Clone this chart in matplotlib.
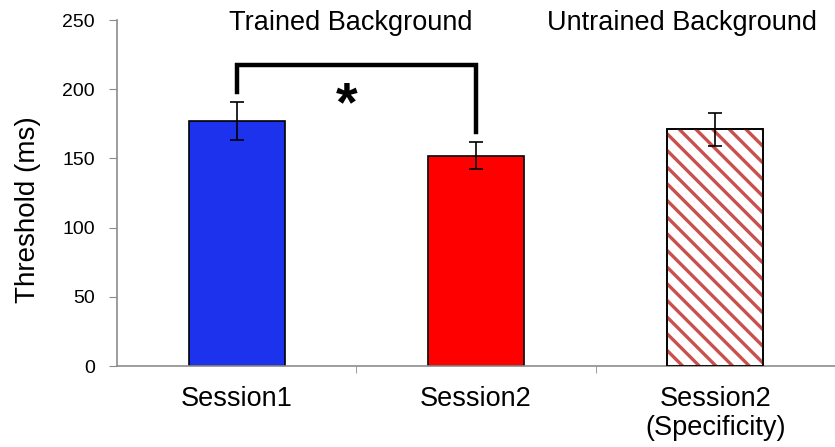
import matplotlib.pyplot as plt

plt.rcParams['font.family'] = ['Liberation Sans', 'DejaVu Sans']
plt.rcParams['hatch.linewidth'] = 2.4

sessions = ['Session1', 'Session2', 'Session2\n(Specificity)']
threshold = [177, 152, 171]
sem = [14, 10, 12]
colors = ['#1c32ec', '#ff0000', 'white']
hatch_color = '#c9504c'
groups = ['Trained Background', 'Untrained Background']

fig = plt.figure(figsize=(8.35, 4.47), dpi=100)
ax = fig.add_axes([0.1401, 0.1812, 0.8599, 0.774])

x = range(len(sessions))
ax.bar(x, threshold, width=0.4, color=colors, edgecolor='black', linewidth=1.2, zorder=2)

# diagonal stripes on the specificity bar, drawn over the white fill
ax.bar(2, threshold[2], width=0.4, color='none', edgecolor=hatch_color,
       hatch='\\\\', linewidth=0, zorder=3)
ax.bar(2, threshold[2], width=0.4, color='none', edgecolor='black', linewidth=1.2, zorder=4)

ax.errorbar(x, threshold, yerr=sem, fmt='none', ecolor='black', elinewidth=1.2,
            capsize=5, capthick=1.2, zorder=5)

ax.set_xlim(-0.5, 2.5)
ax.set_ylim(0, 250)
ax.set_yticks([0, 50, 100, 150, 200, 250])
ax.set_xticks(list(x))
ax.set_xticklabels(sessions, fontsize=19.5, linespacing=1.15)
ax.set_xticks([0.5, 1.5], minor=True)
ax.tick_params(axis='x', which='major', length=0, pad=14.5)
ax.tick_params(axis='x', which='minor', length=5, color='#8c8c8c')
ax.tick_params(axis='y', length=6, color='#8c8c8c', labelsize=14, pad=10)
fig.text(28 / 835, 1 - 210 / 447, 'Threshold (ms)', fontsize=20, rotation=90,
         ha='center', va='center')

for side in ['top', 'right']:
    ax.spines[side].set_visible(False)
for side in ['left', 'bottom']:
    ax.spines[side].set_color('#8c8c8c')
    ax.spines[side].set_linewidth(1.2)

# significance bracket between the two trained-background sessions
ax.plot([0, 0, 1, 1], [198, 217.5, 217.5, 169], color='black', linewidth=3.2,
        solid_joinstyle='miter', clip_on=False, zorder=6)
ax.text(0.46, 188, '*', fontsize=40, fontweight='bold', ha='center', va='center')

ax.text(0.475, 248, groups[0], fontsize=19.5, ha='center', va='center', clip_on=False)
ax.text(1.86, 248, groups[1], fontsize=19.5, ha='center', va='center', clip_on=False)

fig.savefig('out.png', dpi=100)
